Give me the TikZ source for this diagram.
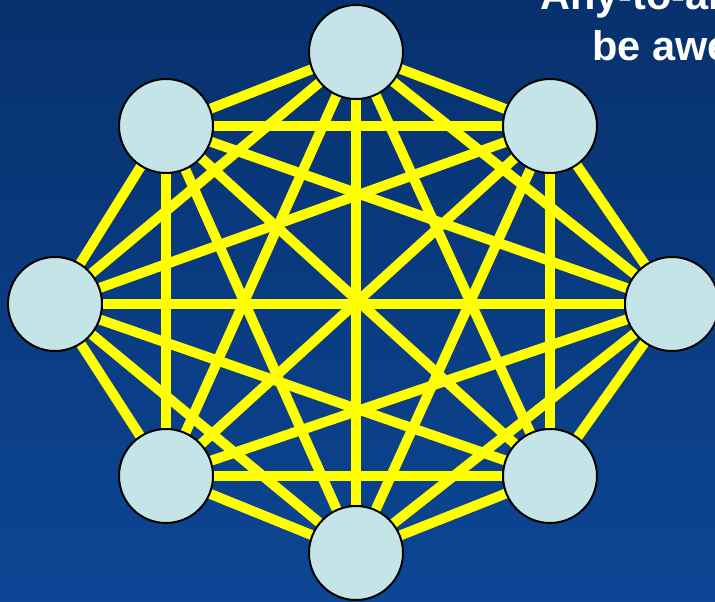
\documentclass[tikz,border=0pt]{standalone}
\usepackage{fontspec}
\setmainfont{Liberation Sans}
\usetikzlibrary{backgrounds}
\definecolor{bgtop}{RGB}{7,49,110}
\definecolor{bgbot}{RGB}{12,70,148}
\definecolor{nodefill}{RGB}{196,228,232}
\definecolor{edgeyellow}{RGB}{255,255,0}
\tikzset{
  vtx/.style={circle, draw=black, line width=2pt, fill=nodefill, minimum size=94pt, inner sep=0pt},
  link/.style={draw=edgeyellow, line width=10pt},
  caption/.style={text=white, font=\bfseries\fontsize{41.5}{50}\selectfont, anchor=base west, inner sep=0pt}
}
\begin{document}
\begin{tikzpicture}[x=1pt,y=-1pt]
\useasboundingbox (0,0) rectangle (715,602);
\clip (0,0) rectangle (715,602);
\node[caption] (t1) at (540,10) {Any-to-any can};
\node[caption] (t2) at (592,60) {be awesome};
\node[vtx] (n1) at (356,52) {};
\node[vtx] (n2) at (550,126) {};
\node[vtx] (n3) at (672,304) {};
\node[vtx] (n4) at (550,476) {};
\node[vtx] (n5) at (356,553) {};
\node[vtx] (n6) at (166,476) {};
\node[vtx] (n7) at (55,304) {};
\node[vtx] (n8) at (166,126) {};
\begin{scope}[on background layer]
\shade[top color=bgtop, bottom color=bgbot] (0,0) rectangle (715,602);
\foreach \a in {1,...,8}{
  \foreach \b in {1,...,8}{
    \ifnum\a<\b
      \draw[link] (n\a.center) -- (n\b.center);
    \fi
  }
}
\end{scope}
\end{tikzpicture}
\end{document}
